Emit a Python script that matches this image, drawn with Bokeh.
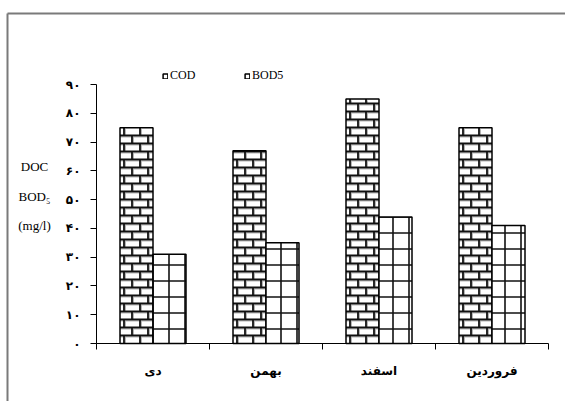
from bokeh.plotting import figure
from bokeh.models import (FixedTicker, Legend, LegendItem, Label, ColumnDataSource)
from bokeh.embed import file_html
from bokeh.resources import INLINE

months = ["دی", "بهمن", "اسفند", "فروردین"]
cod = [75, 67, 85, 75]
bod5 = [31, 35, 44, 41]
y_ticks = [0, 10, 20, 30, 40, 50, 60, 70, 80, 90]
y_tick_labels = ["۰", "۱۰", "۲۰", "۳۰", "۴۰", "۵۰", "۶۰", "۷۰", "۸۰", "۹۰"]
series_names = ["COD", "BOD5"]
y_title_lines = ["DOC", "BOD₅", "(mg/l)"]

# ---- layout geometry (pixels) ----
W, H = 565, 401
BOX_L, BOX_T = 7, 13           # chart-box border (left / top edges)
AX_L, AX_R = 96, 548           # y axis position, right end of x axis
AX_B, AX_T = 343, 84           # x axis position, top of y axis
n = len(months)
ymax = y_ticks[-1]
px_x = (AX_R - AX_L) / n
px_y = (AX_B - AX_T) / ymax
x_rng = ((0 - AX_L) / px_x, (W - AX_L) / px_x)
y_rng = (-(H - AX_B) / px_y, (AX_B - 0) / px_y)


def dx(px):
    return (px - AX_L) / px_x


def dy(py):
    return (AX_B - py) / px_y


centers = [i + 0.5 for i in range(n)]
bar_w = 33 / px_x
src = ColumnDataSource(dict(x_cod=[c - bar_w / 2 for c in centers],
                            x_bod=[c + bar_w / 2 for c in centers],
                            cod=cod, bod=bod5))

p = figure(width=W, height=H, output_backend="svg", toolbar_location=None,
           x_range=x_rng, y_range=y_rng,
           min_border_left=0, min_border_top=0, min_border_right=0, min_border_bottom=0)
p.outline_line_color = None
p.grid.visible = False

# chart-box border: left and top edges (the others fall outside the picture)
p.segment(x0=[dx(BOX_L), dx(BOX_L)], y0=[dy(BOX_T), dy(BOX_T)],
          x1=[x_rng[1], dx(BOX_L)], y1=[dy(BOX_T), y_rng[0]],
          line_color="#7a7a7a", line_width=2)

# COD bars: white fill, brick pattern, black outline
r_cod = p.vbar(x="x_cod", top="cod", width=bar_w, source=src, fill_color="white",
               line_color=None)
row_h = 8 / px_y
brick_w = 16 / px_x
hx0, hx1, hy = [], [], []
vx, vy0, vy1 = [], [], []
for c, top in zip(centers, cod):
    left, right = c - bar_w, c
    k = 0
    while k * row_h < top:
        y0 = k * row_h
        y1 = min((k + 1) * row_h, top)
        if k > 0:
            hx0.append(left); hx1.append(right); hy.append(y0)
        off = (4 if k % 2 == 0 else 12) / px_x
        xj = left + off
        while xj < right - 1e-9:
            vx.append(xj); vy0.append(y0); vy1.append(y1)
            xj += brick_w
        k += 1
# light inner edges
p.segment(x0=hx0, x1=hx1, y0=[v - 1.5 / px_y for v in hy], y1=[v - 1.5 / px_y for v in hy],
          line_color="#b5b5b5", line_width=1)
p.segment(x0=[v + 1.5 / px_x for v in vx], x1=[v + 1.5 / px_x for v in vx], y0=vy0,
          y1=[v - 1.5 / px_y for v in vy1], line_color="#b5b5b5", line_width=1)
# dark mortar lines
p.segment(x0=hx0, x1=hx1, y0=hy, y1=hy, line_color="#111111", line_width=1.8)
p.segment(x0=vx, x1=vx, y0=vy0, y1=vy1, line_color="#111111", line_width=1.8)
r_cod_line = p.vbar(x="x_cod", top="cod", width=bar_w, source=src, fill_alpha=0,
                    line_color="black", line_width=1.5)

r_bod = p.vbar(x="x_bod", top="bod", width=bar_w, source=src, fill_color="white",
               line_color="black", line_width=1.5,
               hatch_pattern="+", hatch_color="#111111", hatch_weight=1.6, hatch_scale=16)

# ---- axes fixed at data zero ----
xa = p.xaxis[0]
xa.fixed_location = 0
xa.bounds = (0, n)
xa.ticker = FixedTicker(ticks=centers, minor_ticks=list(range(n + 1)))
xa.major_label_overrides = {c: m for c, m in zip(centers, months)}
xa.major_tick_line_color = None
xa.minor_tick_out = 6
xa.minor_tick_in = 0
xa.minor_tick_line_color = "black"
xa.axis_line_color = "black"
xa.major_label_standoff = 14
xa.major_label_text_font = "DejaVu Sans"
xa.major_label_text_font_style = "bold"
xa.major_label_text_font_size = "12px"
xa.major_label_text_color = "black"

ya = p.yaxis[0]
ya.fixed_location = 0
ya.bounds = (0, ymax)
ya.ticker = FixedTicker(ticks=y_ticks)
ya.major_label_overrides = {t: l for t, l in zip(y_ticks, y_tick_labels)}
ya.major_tick_out = 6
ya.major_tick_in = 0
ya.minor_tick_line_color = None
ya.axis_line_color = "black"
ya.major_label_standoff = 10
ya.major_label_text_font = "DejaVu Sans"
ya.major_label_text_font_style = "bold"
ya.major_label_text_font_size = "12px"
ya.major_label_text_color = "black"

# ---- y title (three lines) ----
for txt, yy in zip(y_title_lines, [61.5, 51, 41]):
    p.add_layout(Label(x=dx(34), y=yy, text=txt,
                       text_align="center", text_baseline="middle",
                       text_font="Liberation Serif", text_font_size="13px",
                       text_color="black"))

# ---- legends ----
for rs, name, lx in [([r_cod, r_cod_line], series_names[0], 162),
                     ([r_bod], series_names[1], 244)]:
    lg = Legend(items=[LegendItem(label=name, renderers=rs)], location=(lx, H - 83),
                orientation="horizontal", border_line_color=None,
                background_fill_alpha=0, padding=0, margin=0,
                glyph_width=6, glyph_height=6, label_standoff=2,
                label_text_font="Liberation Serif", label_text_font_size="12px",
                label_text_color="black", label_height=12)
    p.add_layout(lg, "center")

open("out.html", "w").write(file_html(p, INLINE))
